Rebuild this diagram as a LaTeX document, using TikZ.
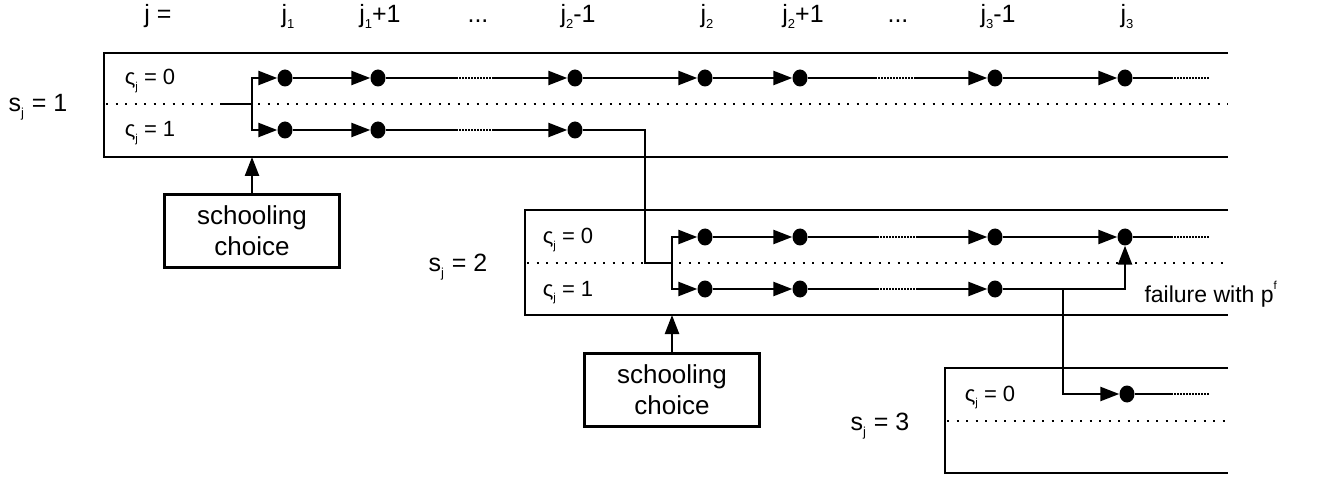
\documentclass[tikz,border=0pt]{standalone}
\usepackage{fontspec}
\setmainfont{Liberation Sans}
\usetikzlibrary{arrows.meta,shapes.geometric}
\newcommand{\sbs}[1]{\raisebox{-0.24em}{\scalebox{0.52}{#1}}}
\newcommand{\sps}[1]{\raisebox{0.55em}{\scalebox{0.5}{#1}}}
\begin{document}
\begin{tikzpicture}[x=1pt,y=-1pt,
  box/.style={line width=2.6pt},
  sep/.style={line width=2.2pt, dash pattern=on 2.2pt off 7.3pt},
  dot/.style={ellipse, fill=black, inner sep=0pt, minimum width=15pt, minimum height=17pt},
  link/.style={line width=2.4pt},
  arr/.style={link, -{Triangle[length=19pt,width=14pt]}},
  tail/.style={line width=2.4pt, dash pattern=on 1.5pt off 1.5pt},
  head/.style={anchor=base, font=\fontsize{25}{29}\selectfont},
  slab/.style={anchor=base, font=\fontsize{25}{29}\selectfont},
  zlab/.style={anchor=base, font=\fontsize{22}{26}\selectfont},
  choice/.style={draw, line width=2.4pt, minimum width=175pt, minimum height=73pt, align=center, font=\fontsize{26}{31}\selectfont},
]
\useasboundingbox (0,0) rectangle (1319,478);

% header
\node[head] (hj) at (158,23) {j =};
\node[head] (h1) at (288,23) {j\sbs{1}};
\node[head] (h2) at (380,23) {j\sbs{1}+1};
\node[head] (h3) at (478,23) {...};
\node[head] (h4) at (578,23) {j\sbs{2}-1};
\node[head] (h5) at (707,23) {j\sbs{2}};
\node[head] (h6) at (803,23) {j\sbs{2}+1};
\node[head] (h7) at (898,23) {...};
\node[head] (h8) at (998,23) {j\sbs{3}-1};
\node[head] (h9) at (1127,23) {j\sbs{3}};

% ---------- box 1 ----------
\draw[box] (1228,53) -- (104,53) -- (104,157) -- (1228,157);
\draw[sep] (106,104) -- (1228,104);
\node[slab] (s1) at (38,112) {s\sbs{j}\kern1pt{} = 1};
\node[zlab] (z10) at (150,85) {ς\sbs{j} = 0};
\node[zlab] (z11) at (150,137) {ς\sbs{j} = 1};

\node[dot] (a1) at (285,78) {};
\node[dot] (a2) at (378,78) {};
\node[dot] (a3) at (575,78) {};
\node[dot] (a4) at (705,78) {};
\node[dot] (a5) at (800,78) {};
\node[dot] (a6) at (995,78) {};
\node[dot] (a7) at (1125,78) {};
\node[dot] (b1) at (285,130) {};
\node[dot] (b2) at (378,130) {};
\node[dot] (b3) at (575,130) {};

\coordinate (st1) at (222,104);
\coordinate (br1) at (252,104);
\draw[link] (st1) -- (br1);
\draw[arr] (br1) |- (a1);
\draw[arr] (br1) |- (b1);
\draw[arr] (a1) -- (a2);
\draw[arr] (b1) -- (b2);
% gaps row a
\coordinate (ga1) at (456,78); \coordinate (ga2) at (494,78);
\draw[link] (a2) -- (ga1); \draw[tail] (ga1) -- (ga2); \draw[arr] (ga2) -- (a3);
\coordinate (gb1) at (456,130); \coordinate (gb2) at (494,130);
\draw[link] (b2) -- (gb1); \draw[tail] (gb1) -- (gb2); \draw[arr] (gb2) -- (b3);
\draw[arr] (a3) -- (a4);
\draw[arr] (a4) -- (a5);
\coordinate (gc1) at (875,78); \coordinate (gc2) at (915,78);
\draw[link] (a5) -- (gc1); \draw[tail] (gc1) -- (gc2); \draw[arr] (gc2) -- (a6);
\draw[arr] (a6) -- (a7);
\coordinate (ta1) at (1171,78); \coordinate (ta2) at (1210,78);
\draw[link] (a7) -- (ta1); \draw[tail] (ta1) -- (ta2);

% schooling choice 1
\node[choice] (sc1) at (252,231) {schooling\\choice};
\coordinate (k1) at (252,157);
\draw[arr] (sc1) -- (k1);

% ---------- box 2 ----------
\draw[box] (1228,210) -- (525,210) -- (525,315) -- (1228,315);
\draw[sep] (527,263) -- (1228,263);
\node[slab] (s2) at (458,272) {s\sbs{j}\kern1pt{} = 2};
\node[zlab] (z20) at (568,244) {ς\sbs{j} = 0};
\node[zlab] (z21) at (568,296) {ς\sbs{j} = 1};

\node[dot] (c1) at (705,237) {};
\node[dot] (c2) at (800,237) {};
\node[dot] (c3) at (995,237) {};
\node[dot] (c4) at (1125,237) {};
\node[dot] (d1) at (705,289) {};
\node[dot] (d2) at (800,289) {};
\node[dot] (d3) at (995,289) {};

\coordinate (dn1) at (645,263);
\coordinate (br2) at (672,263);
\draw[link] (b3) -| (dn1) -- (br2);
\draw[arr] (br2) |- (c1);
\draw[arr] (br2) |- (d1);
\draw[arr] (c1) -- (c2);
\draw[arr] (d1) -- (d2);
\coordinate (gd1) at (877,237); \coordinate (gd2) at (916,237);
\draw[link] (c2) -- (gd1); \draw[tail] (gd1) -- (gd2); \draw[arr] (gd2) -- (c3);
\coordinate (ge1) at (877,289); \coordinate (ge2) at (916,289);
\draw[link] (d2) -- (ge1); \draw[tail] (ge1) -- (ge2); \draw[arr] (ge2) -- (d3);
\draw[arr] (c3) -- (c4);
\coordinate (tc1) at (1171,237); \coordinate (tc2) at (1210,237);
\draw[link] (c4) -- (tc1); \draw[tail] (tc1) -- (tc2);
\draw[arr] (d3) -| (c4);
\node[zlab, anchor=base west, font=\fontsize{23}{27}\selectfont] (fail) at (1141,302) {failure with p\sps{f}};

% schooling choice 2
\node[choice] (sc2) at (672,390) {schooling\\choice};
\coordinate (k2) at (672,315);
\draw[arr] (sc2) -- (k2);

% ---------- box 3 ----------
\draw[box] (1228,368) -- (945,368) -- (945,473) -- (1228,473);
\draw[sep] (947,421) -- (1228,421);
\node[slab] (s3) at (880,430) {s\sbs{j}\kern1pt{} = 3};
\node[zlab] (z30) at (990,401) {ς\sbs{j} = 0};
\node[dot] (e1) at (1127,394) {};
\coordinate (v1) at (1063,289);
\draw[arr] (v1) |- (e1);
\coordinate (te1) at (1171,394); \coordinate (te2) at (1210,394);
\draw[link] (e1) -- (te1); \draw[tail] (te1) -- (te2);
\end{tikzpicture}
\end{document}
